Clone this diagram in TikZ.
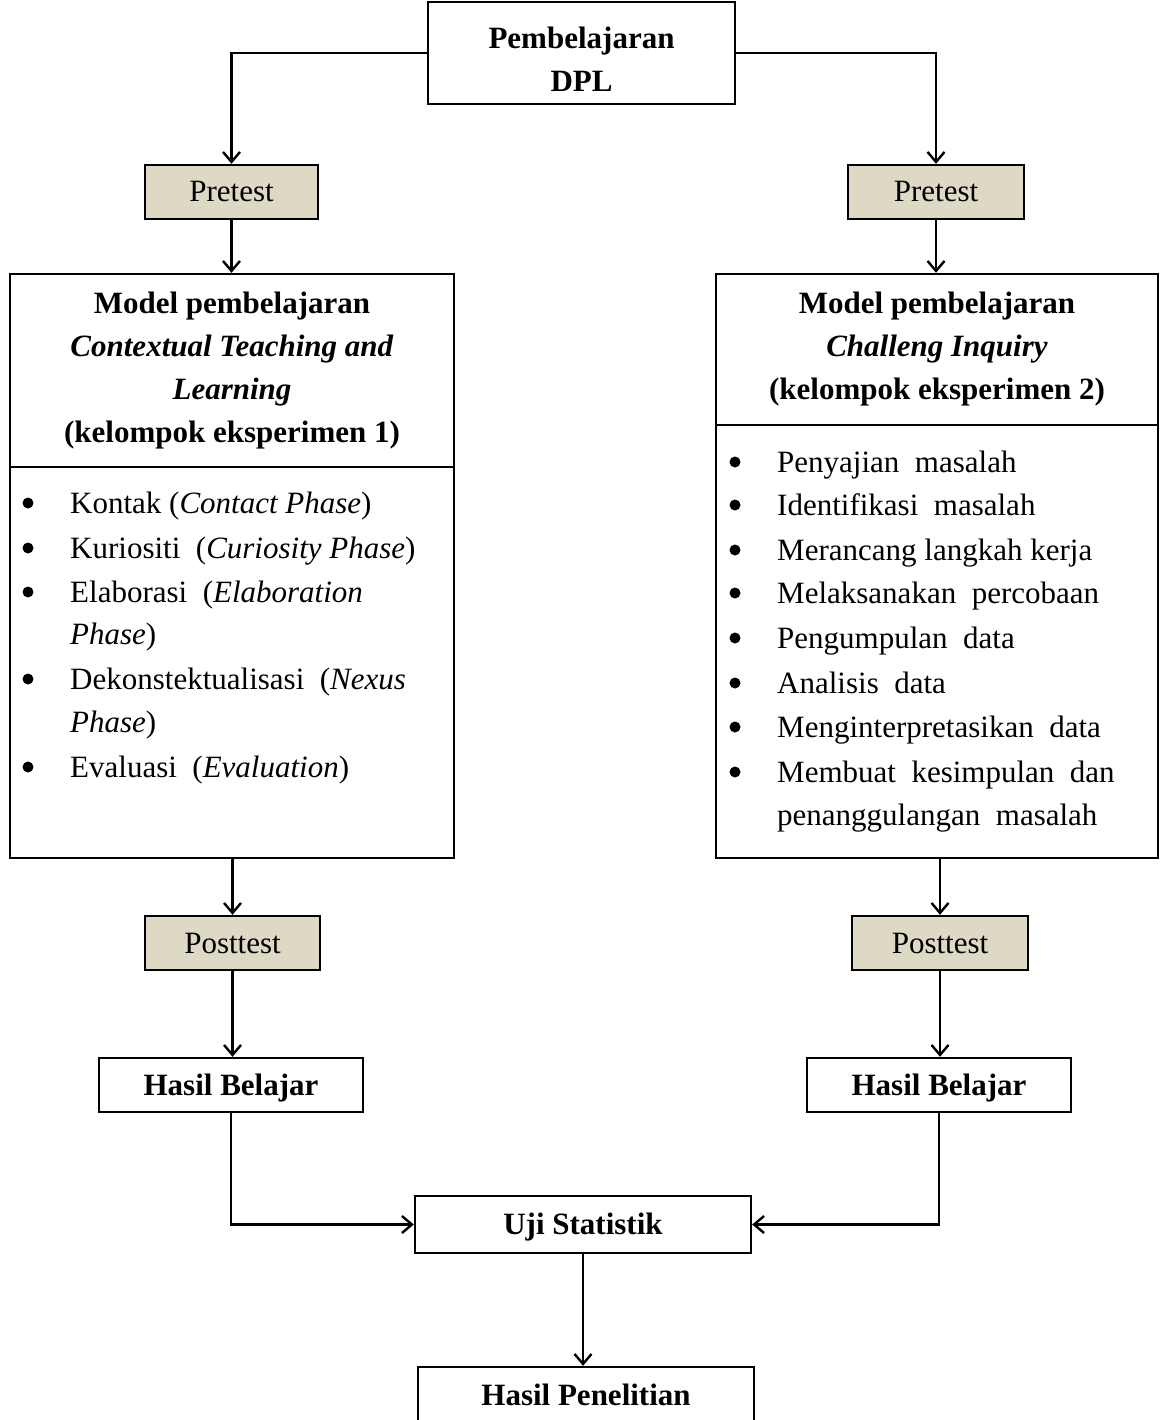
\documentclass[tikz,border=0pt]{standalone}
\usepackage{fontspec}
\setmainfont{Liberation Serif}
\usetikzlibrary{arrows.meta,calc}
\definecolor{tanfill}{HTML}{DDD9C4}
\begin{document}
\begin{tikzpicture}[x=1pt,y=-1pt, line width=2.4pt,
  every node/.style={font=\fontsize{31}{43}\selectfont},
  frame/.style={draw, line width=2.4pt, inner sep=0pt},
  box/.style={frame, align=center, text height=22pt, text depth=2pt, font=\fontsize{31}{42}\selectfont\bfseries},
  tanbox/.style={frame, fill=tanfill, text height=22pt, text depth=2pt, font=\fontsize{31}{42}\selectfont},
  arr/.style={-{Straight Barb[length=10pt,width=17pt]}},
  item/.style={anchor=mid west, inner sep=0pt},
  hdr/.style={align=center, inner sep=0pt, font=\fontsize{31}{43}\selectfont\bfseries},
  dot/.style={circle, fill, inner sep=0pt, minimum size=11pt}]
\useasboundingbox (0,0) rectangle (1160,1420);

% boxes
\node[frame, minimum width=307pt, minimum height=102pt] (top) at (581.5,53) {};
\node[hdr] (toptxt) at (581.5,59) {Pembelajaran\\DPL};
\node[tanbox, minimum width=173pt, minimum height=54pt] (pl) at (231.5,192) {Pretest};
\node[tanbox, minimum width=176pt, minimum height=54pt] (pr) at (936,192) {Pretest};
\node[frame, minimum width=444pt, minimum height=584pt] (m1) at (232,566) {};
\node[frame, minimum width=442pt, minimum height=584pt] (m2) at (937,566) {};
\node[tanbox, minimum width=175pt, minimum height=54pt] (ql) at (232.5,943) {Posttest};
\node[tanbox, minimum width=176pt, minimum height=54pt] (qr) at (940,943) {Posttest};
\node[box, minimum width=264pt, minimum height=54pt] (hl) at (231,1085) {Hasil Belajar};
\node[box, minimum width=264pt, minimum height=54pt] (hr) at (939,1085) {Hasil Belajar};
\node[box, minimum width=336pt, minimum height=57pt] (uji) at (583,1224.5) {Uji Statistik};
\node[box, minimum width=336pt, minimum height=57pt] (hp) at (586,1395.5) {Hasil Penelitian};

% headers
\node[hdr] (h1) at (232,370.5) {Model pembelajaran\\\textit{Contextual Teaching and}\\\textit{Learning}\\(kelompok eksperimen 1)};
\node[hdr] (h2) at (937,349) {Model pembelajaran\\\textit{Challeng Inquiry}\\(kelompok eksperimen 2)};
\coordinate (d1) at (0,467);
\coordinate (d2) at (0,425);
\draw (m1.west |- d1) -- (m1.east |- d1);
\draw (m2.west |- d2) -- (m2.east |- d2);

% left list
\foreach \y/\n in {503/a,548/b,592/c,679/d,767/e} \node[dot] (lb\n) at (28,\y) {};
\node[item] (l1) at (69,511) {Kontak (\textit{Contact Phase})};
\node[item] (l2) at (69,556) {Kuriositi\ \ (\textit{Curiosity Phase})};
\node[item] (l3) at (69,600) {Elaborasi\ \ (\textit{Elaboration}};
\node[item] (l4) at (69,642) {\textit{Phase})};
\node[item] (l5) at (69,687) {Dekonstektualisasi\ \ (\textit{Nexus}};
\node[item] (l6) at (69,730) {\textit{Phase})};
\node[item] (l7) at (69,775) {Evaluasi\ \ (\textit{Evaluation})};

% right list
\foreach \y/\n in {462/a,505/b,550/c,593/d,638/e,683/f,727/g,772/h} \node[dot] (rb\n) at (735,\y) {};
\node[item] (r1) at (776,470) {Penyajian\ \ masalah};
\node[item] (r2) at (776,513) {Identifikasi\ \ masalah};
\node[item] (r3) at (776,558) {Merancang\ langkah\ kerja};
\node[item] (r4) at (776,601) {Melaksanakan\ \ percobaan};
\node[item] (r5) at (776,646) {Pengumpulan\ \ data};
\node[item] (r6) at (776,691) {Analisis\ \ data};
\node[item] (r7) at (776,735) {Menginterpretasikan\ \ data};
\node[item] (r8) at (776,780) {Membuat\ \ kesimpulan\ \ dan};
\node[item] (r9) at (776,823) {penanggulangan\ \ masalah};

% connectors
\draw[arr] (top.west) -| (pl.north);
\draw[arr] (top.east) -| (pr.north);
\draw[arr] (pl.south) -- (pl.south |- m1.north);
\draw[arr] (pr.south) -- (pr.south |- m2.north);
\draw[arr] (ql.north |- m1.south) -- (ql.north);
\draw[arr] (qr.north |- m2.south) -- (qr.north);
\draw[arr] (ql.south) -- (ql.south |- hl.north);
\draw[arr] (qr.south) -- (qr.south |- hr.north);
\draw[arr] (hl.south) |- (uji.west);
\draw[arr] (hr.south) |- (uji.east);
\draw[arr] (uji.south) -- (uji.south |- hp.north);
\end{tikzpicture}
\end{document}
